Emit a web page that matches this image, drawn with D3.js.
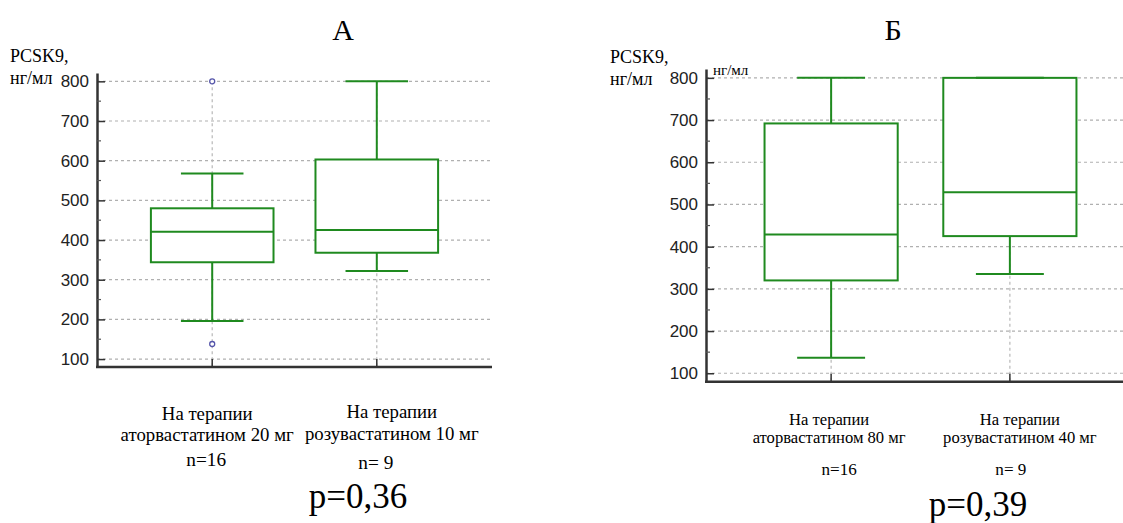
<!DOCTYPE html>
<html>
<head>
<meta charset="utf-8">
<script src="https://cdn.jsdelivr.net/npm/d3@7"></script>
<style>
  body { margin: 0; background: #fff; }
  svg { display: block; }
  .serif { font-family: "Liberation Serif", "Times New Roman", "DejaVu Serif", serif; }
  .sans { font-family: "Liberation Sans", Arial, sans-serif; }
</style>
</head>
<body>
<svg id="chart" width="1123" height="523"></svg>
<script>
// Panel A: atorvastatin 20 mg vs rosuvastatin 10 mg
const groupsA = ["ator20", "rosu10"];
const labelsA = [["На терапии", "аторвастатином 20 мг"], ["На терапии", "розувастатином 10 мг"]];
const countsA = ["n=16", "n= 9"];
// [lower whisker, Q1, median, Q3, upper whisker]
const boxesA = [[196, 344, 421, 480, 568], [322, 368, 425, 603, 800]];
const outliersA = [[800, 138], []];

// Panel B: atorvastatin 80 mg vs rosuvastatin 40 mg
const groupsB = ["ator80", "rosu40"];
const labelsB = [["На терапии", "аторвастатином 80 мг"], ["На терапии", "розувастатином 40 мг"]];
const countsB = ["n=16", "n= 9"];
const boxesB = [[137, 320, 429, 692, 800], [335, 425, 529, 800, 800]];
const outliersB = [[], []];

const yTicks = [100, 200, 300, 400, 500, 600, 700, 800];
const yMinor = [150, 250, 350, 450, 550, 650, 750];

const green = "#1f8a1f";
const svg = d3.select("#chart");

function drawPanel(p) {
    const g = svg.append("g");
    const y = d3.scaleLinear().domain([80, 821]).range([p.bottom, p.top]);
    const x = d3.scalePoint().domain(p.groups).range([p.left, p.right]).padding(0.7);
    const step = x.step();

    // horizontal dashed grid
    g.append("g").selectAll("line").data(yTicks).join("line")
        .attr("x1", p.left).attr("x2", p.gridRight)
        .attr("y1", d => y(d)).attr("y2", d => y(d))
        .attr("stroke", "#b0b0b0").attr("stroke-width", 1.2).attr("stroke-dasharray", "3,3");

    // vertical dotted grid at category centres
    g.append("g").selectAll("line").data(p.groups).join("line")
        .attr("x1", d => x(d)).attr("x2", d => x(d))
        .attr("y1", y(800)).attr("y2", p.bottom)
        .attr("stroke", "#b8b8b8").attr("stroke-width", 1.2).attr("stroke-dasharray", "3,3");

    // boxes
    const bw = step * 0.745, cw = step * 0.38;
    const box = g.append("g").selectAll("g").data(p.boxes).join("g")
        .attr("transform", (d, i) => `translate(${x(p.groups[i])},0)`);
    box.append("line").attr("x1", 0).attr("x2", 0)
        .attr("y1", d => y(d[0])).attr("y2", d => y(d[4]))
        .attr("stroke", green).attr("stroke-width", 2);
    box.append("rect").attr("x", -bw / 2).attr("width", bw)
        .attr("y", d => y(d[3])).attr("height", d => y(d[1]) - y(d[3]))
        .attr("fill", "#fff").attr("stroke", green).attr("stroke-width", 2);
    box.append("line").attr("x1", -bw / 2).attr("x2", bw / 2)
        .attr("y1", d => y(d[2])).attr("y2", d => y(d[2]))
        .attr("stroke", green).attr("stroke-width", 2);
    box.selectAll(".cap").data(d => [d[0], d[4]]).join("line").attr("class", "cap")
        .attr("x1", -cw / 2).attr("x2", cw / 2)
        .attr("y1", d => y(d)).attr("y2", d => y(d))
        .attr("stroke", green).attr("stroke-width", 2);
    box.selectAll("circle").data((d, i) => p.outliers[i]).join("circle")
        .attr("cx", 0).attr("cy", d => y(d)).attr("r", 2.5)
        .attr("fill", "#fff").attr("stroke", "#5555aa").attr("stroke-width", 1.3);

    // y axis (ticks pointing inward)
    const yAxis = g.append("g").attr("transform", `translate(${p.left},0)`)
        .call(d3.axisRight(y).tickValues(yTicks).tickSize(8).tickSizeOuter(0).tickFormat(d3.format("d")));
    yAxis.attr("font-family", null).attr("font-size", null);
    yAxis.select(".domain").attr("stroke", "#333").attr("stroke-width", 2.5);
    yAxis.selectAll(".tick line").attr("stroke", "#333").attr("stroke-width", 1.5);
    yAxis.selectAll(".tick text").attr("x", -8).attr("text-anchor", "end").attr("class", "sans")
        .attr("font-size", 17).attr("fill", "#222");
    g.append("g").selectAll("line").data(yMinor).join("line")
        .attr("x1", p.left).attr("x2", p.left + 4)
        .attr("y1", d => y(d)).attr("y2", d => y(d))
        .attr("stroke", "#555").attr("stroke-width", 1.2);

    // x axis
    g.append("line").attr("x1", p.left - 1).attr("x2", p.axisRight)
        .attr("y1", p.bottom).attr("y2", p.bottom)
        .attr("stroke", "#333").attr("stroke-width", 2.5);
    g.append("g").selectAll("line").data(p.groups).join("line")
        .attr("x1", d => x(d)).attr("x2", d => x(d))
        .attr("y1", p.bottom).attr("y2", p.bottom - 8)
        .attr("stroke", "#333").attr("stroke-width", 1.5);

    // panel title
    g.append("text").attr("class", "serif").attr("x", p.titleX).attr("y", 40).attr("text-anchor", "middle")
        .attr("font-size", 30).text(p.title);
    // y label
    g.append("text").attr("class", "serif").attr("x", p.ylabX).attr("y", p.ylabY)
        .attr("font-size", 18).text("PCSK9,");
    g.append("text").attr("class", "serif").attr("x", p.ylabX).attr("y", p.ylabY + 22)
        .attr("font-size", 18).text("нг/мл");

    // category labels
    p.groups.forEach((grp, i) => {
        const cx = x(grp) + p.labelShift[i];
        p.labels[i].forEach((line, j) => {
            g.append("text").attr("class", "serif").attr("x", cx).attr("y", p.lineY[i][j])
                .attr("text-anchor", "middle").attr("font-size", p.labelSize).text(line);
        });
        g.append("text").attr("class", "serif").attr("x", x(grp) + p.countShift[i]).attr("y", p.countY[i])
            .attr("text-anchor", "middle").attr("font-size", p.labelSize + 0.5).text(p.counts[i]);
    });

    g.append("text").attr("class", "serif").attr("x", p.pX).attr("y", p.pY).attr("text-anchor", "middle")
        .attr("font-size", 35).text(p.pText);
    return g;
}

drawPanel({
    groups: groupsA, labels: labelsA, counts: countsA, boxes: boxesA, outliers: outliersA,
    left: 97, right: 492, top: 73, bottom: 367, gridRight: 490, axisRight: 492,
    title: "А", titleX: 343, ylabX: 10, ylabY: 62, labelSize: 18.8,
    lineY: [[420, 441], [418, 440]], countY: [466, 469],
    labelShift: [-5, 15], countShift: [-6, -1],
    pX: 358, pY: 508, pText: "p=0,36"
});

const gB = drawPanel({
    groups: groupsB, labels: labelsB, counts: countsB, boxes: boxesB, outliers: outliersB,
    left: 706, right: 1135, top: 69, bottom: 381.7, gridRight: 1123, axisRight: 1123,
    title: "Б", titleX: 893, ylabX: 610, ylabY: 63, labelSize: 16.6,
    lineY: [[425, 443], [425, 443]], countY: [475, 475],
    labelShift: [-2, 10], countShift: [8, 1],
    pX: 978, pY: 516, pText: "p=0,39"
});
gB.append("text").attr("class", "serif").attr("x", 713).attr("y", 75)
    .attr("font-size", 15).text("нг/мл");
</script>
</body>
</html>
